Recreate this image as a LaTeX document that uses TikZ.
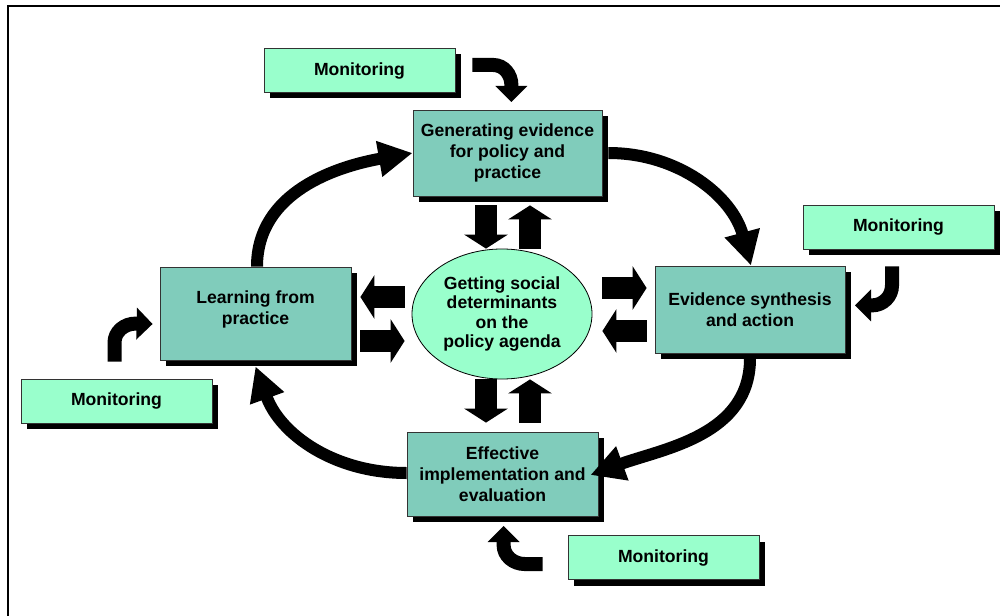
\documentclass[tikz,border=0pt]{standalone}
\usepackage{fontspec}
\setmainfont{Liberation Sans}
\usetikzlibrary{arrows.meta,shadows,shapes.geometric}

\definecolor{stagefill}{RGB}{128,204,187}
\definecolor{monfill}{RGB}{153,255,204}

\tikzset{
  stage/.style={draw=black!80, line width=0.8pt, fill=stagefill, align=center,
    font=\fontsize{17.6}{21}\selectfont\bfseries,
    drop shadow={shadow xshift=6pt, shadow yshift=-6pt, fill=black, opacity=1}},
  monitor/.style={stage, fill=monfill, minimum width=191pt, minimum height=44pt},
  cycle/.style={line width=12pt, -{Triangle[width=34pt,length=34pt]}},
  bent/.style={line width=14pt, -{Triangle[width=31pt,length=16pt]}},
  block/.style={line width=22pt, -{Triangle[width=43pt,length=14pt]}}
}

\begin{document}
\begin{tikzpicture}[x=1pt,y=1pt]
    \useasboundingbox (0,0) rectangle (1000,-615);
    \draw[line width=2.3pt] (7.8,-625) |- (1010,-6);

    \node[stage, minimum width=189pt, minimum height=86pt] (gen) at (507.5,-153) {Generating evidence\\for policy and\\practice};
    \node[stage, minimum width=191pt, minimum height=93pt] (learn) at (255.5,-313.5) {Learning from\\practice\\[-9pt]};
    \node[stage, minimum width=190pt, minimum height=87pt] (synth) at (750,-309.5) {Evidence synthesis\\and action};
    \node[stage, minimum width=191pt, minimum height=84pt] (impl) at (502.5,-474) {Effective\\implementation and\\evaluation};
    \node[ellipse, draw=black, line width=0.8pt, fill=monfill, minimum width=180pt, minimum height=130pt,
      inner sep=0pt, align=center, font=\fontsize{17.6}{19.5}\selectfont\bfseries] (core) at (502,-314)
      {Getting social\\determinants\\on the\\policy agenda};

    \node[monitor] (mon1) at (359.5,-70.5) {Monitoring};
    \node[monitor] (mon2) at (898.5,-227) {Monitoring};
    \node[monitor] (mon3) at (116.5,-401) {Monitoring};
    \node[monitor] (mon4) at (663.5,-557.5) {Monitoring};

    \draw[cycle] (learn.north) ++(1.5,0) to[out=90,in=190] (gen.west);
    \draw[cycle] ([xshift=6pt]gen.east) to[out=0,in=105] ([xshift=1pt]synth.north);
    \draw[cycle] ([yshift=-5pt]synth.south) to[out=-90,in=20] ([shift={(-8pt,-1pt)}]impl.east);
    \draw[cycle] ([yshift=1pt]impl.west) to[out=180,in=-70] ([yshift=-6pt]learn.south);

    \draw[bent] ([shift={(17pt,5.5pt)}]mon1.east) -- ++(21,0) to[out=0,in=90] ++(18,-20) -- ++(0,-17);
    \draw[bent] ([shift={(-6.5pt,-17pt)}]mon2.south) -- ++(0,-19) to[out=-90,in=0] ++(-20,-20) -- ++(-17,0);
    \draw[bent] ([shift={(-2pt,17pt)}]mon3.north) -- ++(0,19) to[out=90,in=180] ++(21,19) -- ([shift={(-7pt,-10.5pt)}]learn.west);
    \draw[bent] ([shift={(-25pt,-6.5pt)}]mon4.west) -- ++(-18,0) to[out=180,in=-90] ++(-21,19) -- ++(0,19);

    \draw[block, shorten <=9pt] ([xshift=-21.5pt]gen.south) -- ([xshift=-21.5pt]gen.south |- core.north);
    \draw[block, shorten >=9pt] ([xshift=22.5pt]gen.south |- core.north) -- ([xshift=22.5pt]gen.south);
    \draw[block, shorten >=9pt] ([xshift=-16.5pt]impl.north |- core.south) -- ([xshift=-16.5pt]impl.north);
    \draw[block, shorten <=9pt] ([xshift=27.5pt]impl.north) -- ([xshift=27.5pt]impl.north |- core.south);
    \draw[block, shorten <=10pt, shorten >=8pt] ([yshift=21.5pt]synth.west -| core.east) -- ([yshift=21.5pt]synth.west);
    \draw[block, shorten <=8pt, shorten >=10pt] ([yshift=-21.5pt]synth.west) -- ([yshift=-21.5pt]synth.west -| core.east);
    \draw[block, shorten <=7pt, shorten >=9pt] ([yshift=16.5pt]learn.east -| core.west) -- ([yshift=16.5pt]learn.east);
    \draw[block, shorten <=9pt, shorten >=7pt] ([yshift=-27.5pt]learn.east) -- ([yshift=-27.5pt]learn.east -| core.west);
\end{tikzpicture}
\end{document}
